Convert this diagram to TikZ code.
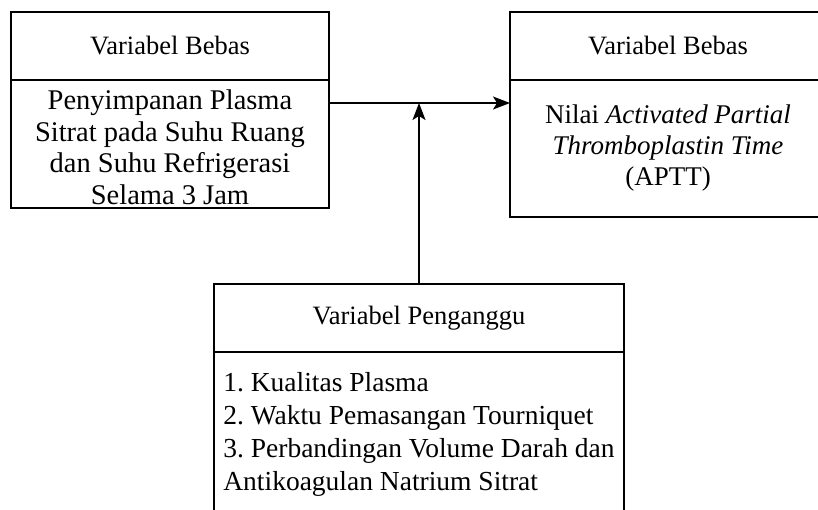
\documentclass[tikz,border=0pt]{standalone}
\usepackage{fontspec}
\setmainfont{Liberation Serif}
\usetikzlibrary{arrows.meta,positioning}

\begin{document}
\frenchspacing
\begin{tikzpicture}[
  x=1pt, y=-1pt,
  font=\fontsize{26.5}{33}\selectfont,
  head/.style={
    rectangle,
    draw,
    line width=1.6pt,
    outer sep=0pt,
    minimum height=68pt,
    inner sep=0pt
  },
  body/.style={
    rectangle,
    draw,
    line width=1.6pt,
    outer sep=0pt,
    align=center,
    inner sep=0pt
  },
  arrow/.style={-{Stealth[length=17pt,width=13pt,inset=4pt]}, line width=1.6pt}
]
\useasboundingbox (0,0) rectangle (818,509);
\clip (0,0) rectangle (818,509);
\node[head, minimum width=318pt] (lhead) at (170,46) {Variabel Bebas};
\node[body, below=0pt of lhead, minimum width=318pt, minimum height=128pt,
  font=\fontsize{28.5}{31.5}\selectfont] (lbody) {\rule{0pt}{26pt}Penyimpanan Plasma\\Sitrat pada Suhu Ruang\\dan Suhu Refrigerasi\\Selama 3 Jam};
\node[head, minimum width=316pt] (rhead) at (668,46) {Variabel Bebas};
\node[body, below=0pt of rhead, minimum width=316pt, minimum height=137pt,
  font=\fontsize{27}{31}\selectfont] (rbody) {Nilai \textit{Activated Partial}\\\textit{Thromboplastin Time}\\(APTT)};
\node[head, minimum width=410pt] (phead) at (419,318) {Variabel Penganggu};
\node[body, below=0pt of phead, minimum width=410pt, minimum height=165pt, align=left,
  font=\fontsize{27.5}{33}\selectfont] (pbody) {1. Kualitas Plasma\\2. Waktu Pemasangan Tourniquet\\3. Perbandingan Volume Darah dan\\Antikoagulan Natrium Sitrat};
\coordinate (join) at (419,103);

\draw[arrow] (lbody.east |- join) -- (rbody.west |- join);
\draw[arrow] (phead.north) -- (join);
\end{tikzpicture}
\end{document}
